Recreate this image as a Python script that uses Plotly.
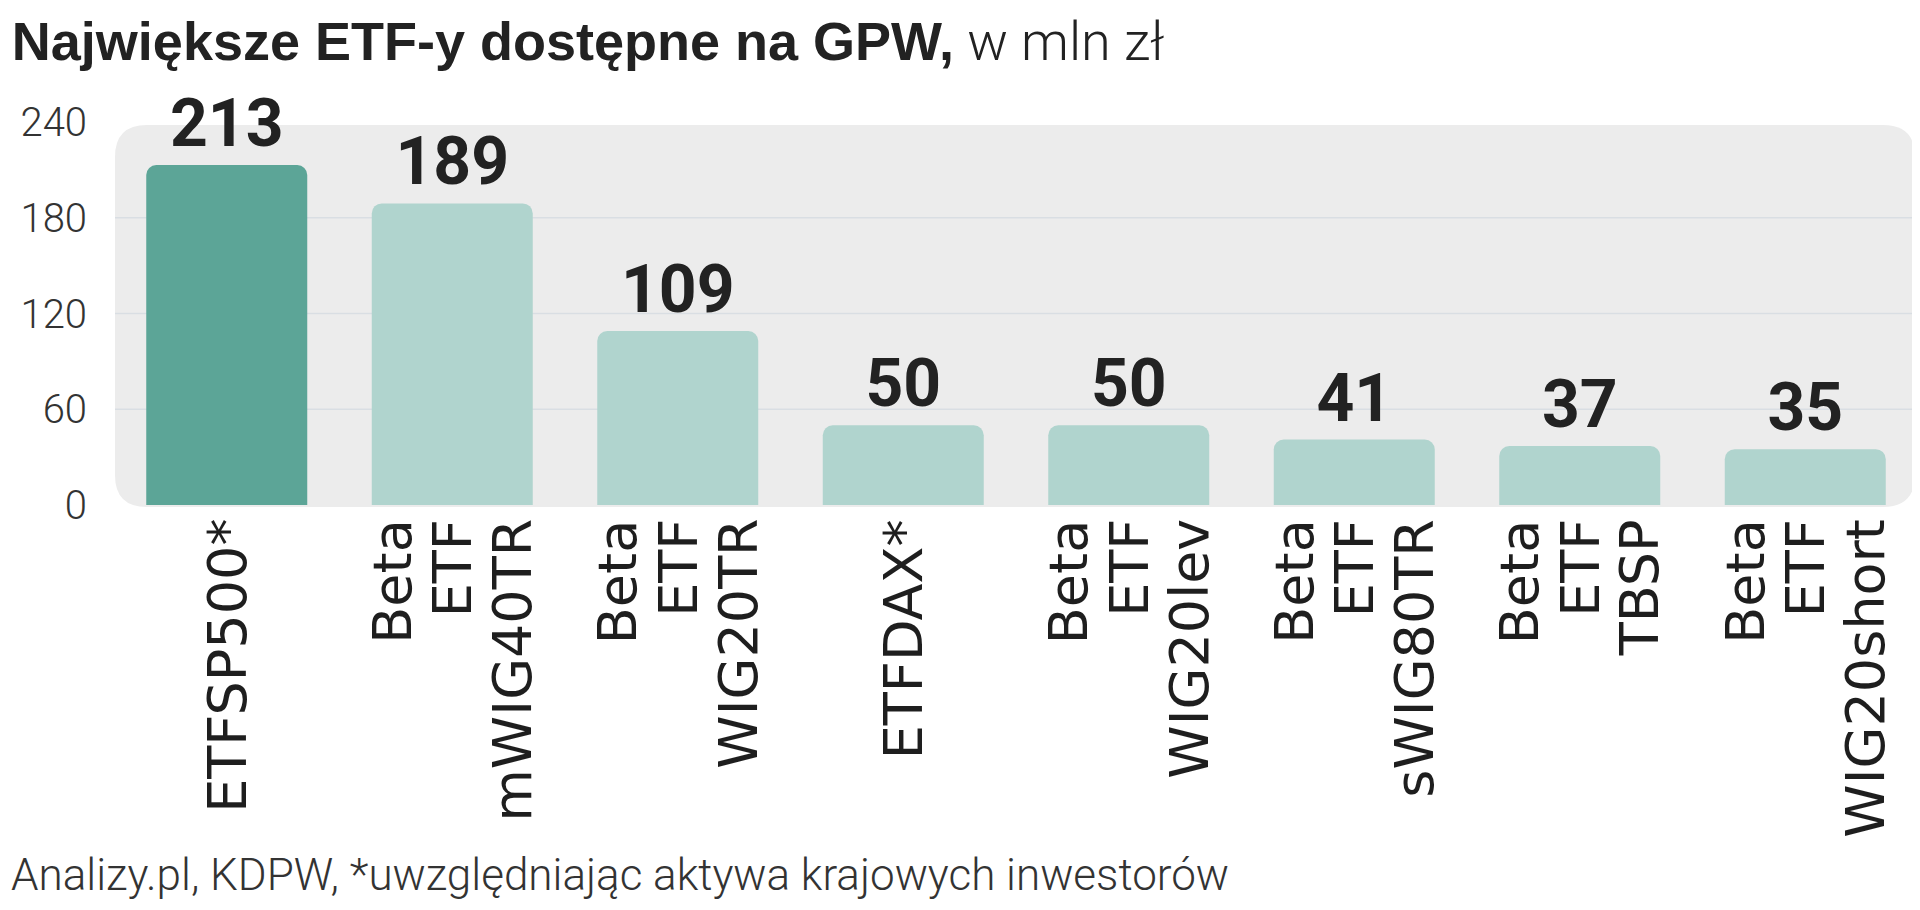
import plotly.graph_objects as go

# ---------------- data ----------------
categories = ["ETFSP500*", "Beta ETF mWIG40TR", "Beta ETF WIG20TR", "ETFDAX*",
              "Beta ETF WIG20lev", "Beta ETF sWIG80TR", "Beta ETF TBSP", "Beta ETF WIG20short"]
label_lines = [["ETFSP500*"], ["Beta", "ETF", "mWIG40TR"], ["Beta", "ETF", "WIG20TR"], ["ETFDAX*"],
               ["Beta", "ETF", "WIG20lev"], ["Beta", "ETF", "sWIG80TR"], ["Beta", "ETF", "TBSP"],
               ["Beta", "ETF", "WIG20short"]]
values = [213, 189, 109, 50, 50, 41, 37, 35]
highlighted = [True, False, False, False, False, False, False, False]
y_ticks = [0, 60, 120, 180, 240]
title_bold = "Największe ETF-y dostępne na GPW,"
title_light = " w mln zł"
footer = "Analizy.pl, KDPW, *uwzględniając aktywa krajowych inwestorów"

# ---------------- layout constants ----------------
OFF = 8                      # default page (body) margin of the html page
W, H = 1920 - OFF, 910 - OFF
ML, MR, MT, MB = 114 - OFF, 2, 122 - OFF, 405
plot_w = W - ML - MR
plot_h = H - MT - MB
DARK = "#5ca597"
LIGHT = "#b0d4ce"
BG = "#ececec"

colors = [DARK if h else LIGHT for h in highlighted]

fig = go.Figure()
fig.add_trace(go.Bar(
    x=categories, y=values, width=0.714,
    marker=dict(color=colors, cornerradius=10, line=dict(width=0)),
    text=[str(v) for v in values], textposition="outside",
    textfont=dict(family="Roboto", size=66, color="#222222", weight=700),
    cliponaxis=False, constraintext="none", hoverinfo="skip",
))

# rounded background panel (page pixel -> paper conversion)
def px2paper_x(px):
    return (px - OFF - ML) / plot_w

def px2paper_y(py):
    return (H - MB - (py - OFF)) / plot_h

bx0, bx1, by0, by1 = 115, 1915, 125, 507
r = 32
x0, x1 = px2paper_x(bx0), px2paper_x(bx1)
yt, yb = px2paper_y(by0), px2paper_y(by1)
rx, ry = r / plot_w, r / plot_h
path = (f"M {x0+rx},{yt} L {x1-rx},{yt} Q {x1},{yt} {x1},{yt-ry} "
        f"L {x1},{yb+ry} Q {x1},{yb} {x1-rx},{yb} L {x0+rx},{yb} "
        f"Q {x0},{yb} {x0},{yb+ry} L {x0},{yt-ry} Q {x0},{yt} {x0+rx},{yt} Z")
shapes = [dict(type="path", path=path, xref="paper", yref="paper",
               fillcolor=BG, line=dict(width=0), layer="below")]
for t in y_ticks[1:-1]:
    shapes.append(dict(type="line", xref="paper", yref="y", x0=x0, x1=x1, y0=t, y1=t,
                       line=dict(color="#d9dee3", width=1.5), layer="below"))

annotations = []
# rotated category labels, one annotation per line
for cat, lines in zip(categories, label_lines):
    n = len(lines)
    for j, ln in enumerate(lines):
        annotations.append(dict(
            x=cat, y=0, xref="x", yref="y", text=ln, showarrow=False,
            textangle=-90, xanchor="center", yanchor="top",
            xshift=(j - (n - 1) / 2) * 60, yshift=-12,
            font=dict(family="DejaVu Sans", size=54, color="#1e1e1e"),
        ))
# footer
annotations.append(dict(
    x=px2paper_x(OFF + 1), y=px2paper_y(903), xref="paper", yref="paper",
    xanchor="left", yanchor="bottom", showarrow=False, text=footer,
    font=dict(family="Roboto", size=44, color="#333333", weight=300),
))

fig.update_layout(
    width=W, height=H,
    margin=dict(l=ML, r=MR, t=MT, b=MB, pad=0),
    paper_bgcolor="white", plot_bgcolor="rgba(0,0,0,0)",
    showlegend=False,
    title=dict(
        text=f"<b>{title_bold}</b><span style='font-family:Roboto;font-weight:300'>{title_light}</span>",
        x=0.002, xref="container", xanchor="left",
        y=0.984, yref="container", yanchor="top",
        font=dict(family="Liberation Sans", size=54, color="#222222"),
    ),
    xaxis=dict(range=[-0.5, 7.5], showticklabels=False, showgrid=False, zeroline=False,
               showline=False, ticks=""),
    yaxis=dict(range=[0, 240], tickvals=y_ticks, ticktext=[str(t) for t in y_ticks],
               showgrid=False, zeroline=False, showline=False,
               ticks="outside", ticklen=18, tickcolor="rgba(0,0,0,0)",
               tickfont=dict(family="Roboto", size=40, color="#333333", weight=300)),
    shapes=shapes, annotations=annotations,
    bargap=0.3,
)

fig.write_html("out.html")
